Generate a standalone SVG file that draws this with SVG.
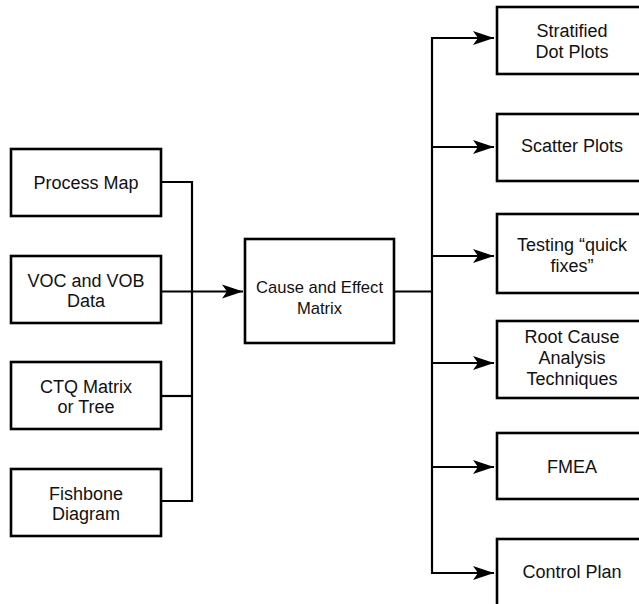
<svg xmlns="http://www.w3.org/2000/svg" width="639" height="604" viewBox="0 0 639 604">
  <defs>
    <marker id="arrow" viewBox="0 0 22 16" refX="21" refY="8" markerWidth="22" markerHeight="16" markerUnits="userSpaceOnUse" orient="auto">
      <path d="M0,1 L21,8 L0,15 L5,8 Z" fill="#000"/>
    </marker>
  </defs>
  <style>
    .box { fill: #fff; stroke: #000; stroke-width: 2.6; }
    .lbl { font-family: "Liberation Sans", Arial, Helvetica, sans-serif; font-size: 18px; fill: #111; text-anchor: middle; }
    .mid { font-size: 16.6px; }
    .wire { fill: none; stroke: #000; stroke-width: 2.2; }
  </style>
  <rect width="639" height="604" fill="#fff"/>

  <g id="connectors">
    <!-- inputs gathered onto a single bus -->
    <polyline class="wire" points="161,182 192,182 192,501 161,501"/>
    <line class="wire" x1="161" y1="396" x2="192" y2="396"/>
    <line class="wire" x1="161" y1="291.5" x2="243" y2="291.5" marker-end="url(#arrow)"/>
    <!-- matrix output fanned out to the tools -->
    <line class="wire" x1="394" y1="291.5" x2="432" y2="291.5"/>
    <line class="wire" x1="432" y1="38" x2="432" y2="573"/>
    <line class="wire" x1="431" y1="38" x2="494" y2="38" marker-end="url(#arrow)"/>
    <line class="wire" x1="432" y1="147" x2="494" y2="147" marker-end="url(#arrow)"/>
    <line class="wire" x1="432" y1="256" x2="494" y2="256" marker-end="url(#arrow)"/>
    <line class="wire" x1="432" y1="363" x2="494" y2="363" marker-end="url(#arrow)"/>
    <line class="wire" x1="432" y1="467" x2="494" y2="467" marker-end="url(#arrow)"/>
    <line class="wire" x1="431" y1="573" x2="494" y2="573" marker-end="url(#arrow)"/>
  </g>

  <g id="process-map">
    <rect class="box" x="11" y="149" width="150" height="67"/>
    <text class="lbl" x="86" y="189">Process Map</text>
  </g>
  <g id="voc-vob">
    <rect class="box" x="11" y="256" width="150" height="67"/>
    <text class="lbl" x="86" y="286.5">VOC and VOB</text>
    <text class="lbl" x="86" y="306.5">Data</text>
  </g>
  <g id="ctq">
    <rect class="box" x="11" y="362" width="150" height="67"/>
    <text class="lbl" x="86" y="392.5">CTQ Matrix</text>
    <text class="lbl" x="86" y="412.5">or Tree</text>
  </g>
  <g id="fishbone">
    <rect class="box" x="11" y="469" width="150" height="67"/>
    <text class="lbl" x="86" y="499.5">Fishbone</text>
    <text class="lbl" x="86" y="519.5">Diagram</text>
  </g>

  <g id="cause-effect">
    <rect class="box" x="245" y="239" width="149" height="104"/>
    <text class="lbl mid" x="319.5" y="293">Cause and Effect</text>
    <text class="lbl mid" x="319.5" y="314">Matrix</text>
  </g>

  <g id="dot-plots">
    <rect class="box" x="497" y="7" width="150" height="67"/>
    <text class="lbl" x="572" y="37">Stratified</text>
    <text class="lbl" x="572" y="58">Dot Plots</text>
  </g>
  <g id="scatter">
    <rect class="box" x="497" y="114" width="150" height="67"/>
    <text class="lbl" x="572" y="152">Scatter Plots</text>
  </g>
  <g id="quick-fixes">
    <rect class="box" x="497" y="214" width="150" height="79"/>
    <text class="lbl" x="572" y="250.5">Testing “quick</text>
    <text class="lbl" x="572" y="271.5">fixes”</text>
  </g>
  <g id="root-cause">
    <rect class="box" x="497" y="321" width="150" height="77"/>
    <text class="lbl" x="572" y="342.5">Root Cause</text>
    <text class="lbl" x="572" y="363.5">Analysis</text>
    <text class="lbl" x="572" y="385">Techniques</text>
  </g>
  <g id="fmea">
    <rect class="box" x="497" y="433" width="150" height="66"/>
    <text class="lbl" x="572" y="473">FMEA</text>
  </g>
  <g id="control-plan">
    <rect class="box" x="497" y="539" width="150" height="80"/>
    <text class="lbl" x="572" y="578">Control Plan</text>
  </g>
</svg>
